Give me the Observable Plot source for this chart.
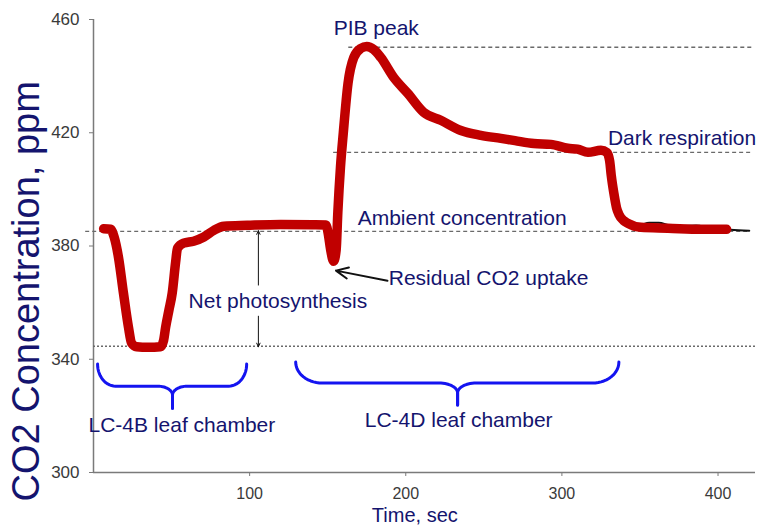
<!DOCTYPE html>
<html><head><meta charset="utf-8">
<script src="https://cdn.jsdelivr.net/npm/d3@7"></script>
<script src="https://cdn.jsdelivr.net/npm/@observablehq/plot@0.6"></script>
<style>body{margin:0;background:#fff} #chart svg{display:block}</style>
</head><body><div id="chart"></div>
<script>
// Main CO2 trace (time in sec, CO2 in ppm)
const timeSec = [6.5,10.9,13.2,16,19.2,22.4,24.4,27.6,35,42.9,44.9,46.2,48.3,50.4,52.6,53.8,57.7,64.1,70.7,77.1,83.5,98.5,119.9,140,148.8,150.3,151.8,153.8,155.4,156.5,158.2,160,163,166.7,171.2,175,179.5,184,192.3,201.3,211.5,222.4,235.3,248.1,260.9,270,282,292.9,303.8,310,316.7,325,328.8,330.6,331.6,333.3,335,336.5,339.5,342.3,350.6,367.9,389.1,405.5];
const co2Ppm  = [386.1,385.9,383.2,376,363.3,351.3,345.7,344.4,344.2,344.4,346.7,351.3,357.3,363.3,374.3,379.2,381,381.7,383.2,385.5,387,387.3,387.6,387.5,387.4,384.5,379,374.6,378.5,392,408,420,437.4,446.6,449.8,450.5,449.4,446.6,439.5,433.9,427.2,424.4,420.8,419.1,418,417.2,416.2,415.9,414.5,414.2,413.1,413.8,413,410,405,398.6,393.5,391.2,389,388,386.6,386.3,385.9,385.9];
// thin black instrument trace peeking out near the end
const traceTime = [348,356,362,370,378,386,395,408,420];
const tracePpm  = [386.6,388.2,388.2,387.2,387.1,387.2,386.3,385.7,385.4];
// reference levels
const levelNames  = ["Ambient concentration","Net photosynthesis","PIB peak","Dark respiration"];
const levelValues = [385.2,344.6,450.2,413.1];
const levelStart  = [-5,0,163.5,153.8];
const levelEnd    = [420,424,421.8,421.8];
const levelDash   = ["4,3","2,2","4,3","4,3"];
// ticks
const xTicks = [100,200,300,400];
const yTicks = [300,340,380,420,460];

const navy = "#14146e";
const rows = timeSec.map((t,i)=>({t, ppm: co2Ppm[i]}));
const traceRows = traceTime.map((t,i)=>({t, ppm: tracePpm[i]}));
const levels = levelNames.map((name,i)=>({name, y: levelValues[i], x1: levelStart[i], x2: levelEnd[i], dash: levelDash[i]}));

// brace definitions (data units)
const braces = [
  {x0:2.6, x1:98.1, xm:50.6, yTop:338.3, yMid:330.5, yTip:322.7, rxEnd:11.5, rxMid:9.6, ryMid:3.2},
  {x0:129.5, x1:336.5, xm:233.2, yTop:339, yMid:331.6, yTip:323.8, rxEnd:17, rxMid:12, ryMid:3.5}
];
function bracePoints(b, k){
  const n = 14, pts = [];
  const ryEnd = b.yTop - b.yMid;
  const L = k + "L", R = k + "R";
  for (let i=0;i<=n;i++){const a=Math.PI+Math.PI/2*i/n; pts.push({x:b.x0+b.rxEnd+b.rxEnd*Math.cos(a), y:b.yTop+ryEnd*Math.sin(a), z:L});}
  for (let i=0;i<=n;i++){const a=Math.PI/2-Math.PI/2*i/n; pts.push({x:b.xm-b.rxMid+b.rxMid*Math.cos(a), y:b.yMid-b.ryMid+b.ryMid*Math.sin(a), z:L});}
  pts.push({x:b.xm, y:b.yTip, z:L});
  pts.push({x:b.xm, y:b.yTip, z:R});
  for (let i=0;i<=n;i++){const a=Math.PI-Math.PI/2*i/n; pts.push({x:b.xm+b.rxMid+b.rxMid*Math.cos(a), y:b.yMid-b.ryMid+b.ryMid*Math.sin(a), z:R});}
  for (let i=0;i<=n;i++){const a=1.5*Math.PI+Math.PI/2*i/n; pts.push({x:b.x1-b.rxEnd+b.rxEnd*Math.cos(a), y:b.yTop+ryEnd*Math.sin(a), z:R});}
  return pts;
}
const bracePts = braces.flatMap((b,k)=>bracePoints(b,"b"+k));

// annotations (data units)
const labels = [
  {text:"PIB peak", x:153.8, y:456.8},
  {text:"Dark respiration", x:329.5, y:418},
  {text:"Ambient concentration", x:169.2, y:389.8},
  {text:"Residual CO2 uptake", x:189.1, y:368.6},
  {text:"Net photosynthesis", x:60.9, y:360.5},
  {text:"LC-4B leaf chamber", x:-3.2, y:316.7},
  {text:"LC-4D leaf chamber", x:173.7, y:318.5}
];
const arrows = [
  {x1:105.6, y1:366.2, x2:105.6, y2:385.4, w:1, h:6},
  {x1:105.6, y1:355.2, x2:105.6, y2:344.4, w:1, h:6},
  {x1:188.3, y1:367.7, x2:155.3, y2:371.3, w:2, h:10}
];

const chart = Plot.plot({
  width: 757, height: 528,
  marginLeft: 93, marginRight: 2, marginTop: 19, marginBottom: 56,
  x: {domain: [0, 424]},
  y: {domain: [300, 460]},
  style: {fontFamily: "'Liberation Sans', Arial, sans-serif", background: "white", overflow: "visible"},
  marks: [
    Plot.ruleY([300], {stroke: "#7a7a7a", strokeWidth: 1.5}),
    Plot.ruleX([0], {stroke: "#7a7a7a", strokeWidth: 1.5}),
    Plot.axisX({ticks: xTicks, tickSize: 4, tickPadding: 11, fontSize: 16, color: "#3a3a3a", stroke: "#7a7a7a", label: null}),
    Plot.axisY({ticks: yTicks, tickSize: 4, tickPadding: 10, fontSize: 17, color: "#3a3a3a", stroke: "#7a7a7a", label: null}),
    ...levels.map(l => Plot.ruleY([l], {y: "y", x1: "x1", x2: "x2", stroke: "#6a6a6a", strokeWidth: 1.3, strokeDasharray: l.dash})),
    Plot.line(bracePts, {x: "x", y: "y", z: "z", stroke: "#1414f0", strokeWidth: 3, strokeLinecap: "round", strokeLinejoin: "round"}),
    Plot.line(traceRows, {x: "t", y: "ppm", stroke: "#111", strokeWidth: 2, curve: "monotone-x"}),
    Plot.line(rows, {x: "t", y: "ppm", stroke: "#c00000", strokeWidth: 9.5, curve: "monotone-x", strokeLinecap: "round", strokeLinejoin: "round"}),
    ...arrows.map(a => Plot.arrow([a], {x1: "x1", y1: "y1", x2: "x2", y2: "y2", stroke: "#111", strokeWidth: a.w, headLength: a.h, headAngle: 50})),
    Plot.text(labels, {x: "x", y: "y", text: "text", textAnchor: "start", fontSize: 21, fill: navy}),
    Plot.text(["Time, sec"], {x: 205.8, y: 284.7, fontSize: 20, fill: navy}),
    Plot.text(["CO2 Concentration, ppm"], {x: -42.5, y: 364, rotate: -90, fontSize: 38, fill: navy})
  ]
});
document.getElementById("chart").append(chart);
</script>
</body></html>
